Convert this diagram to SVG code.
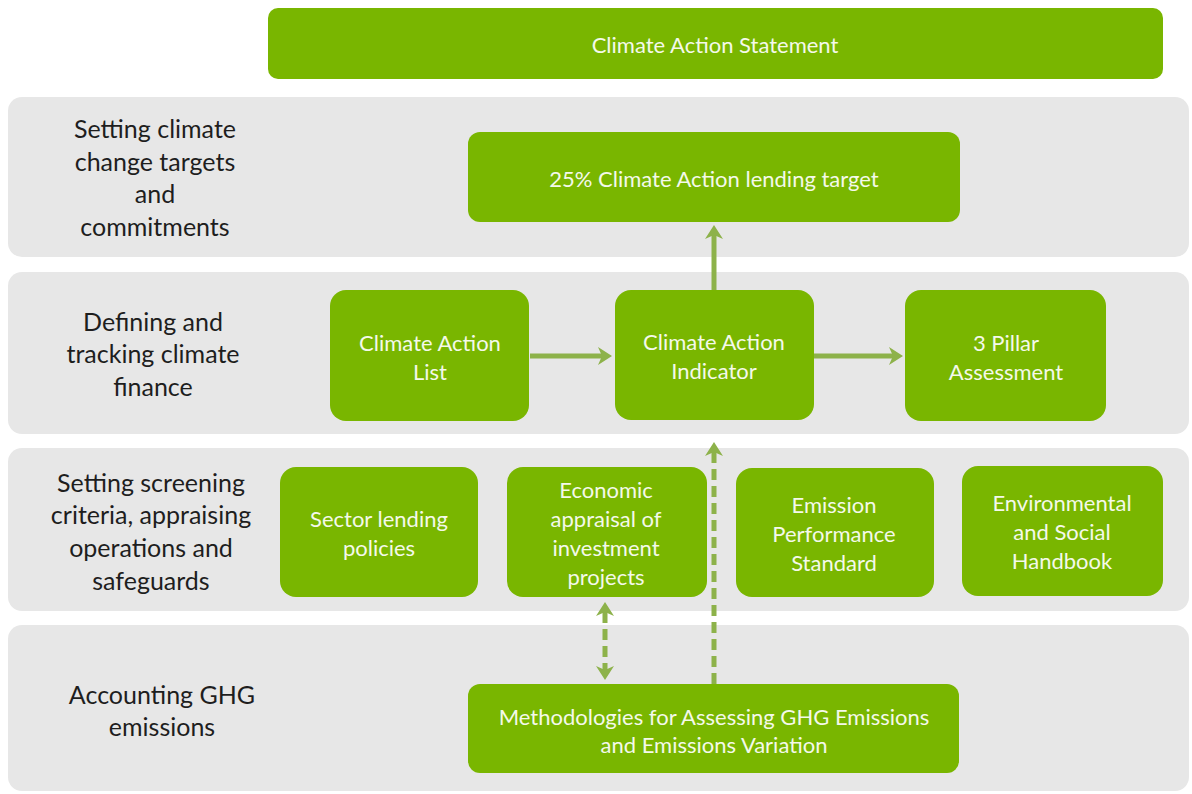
<svg xmlns="http://www.w3.org/2000/svg" width="1192" height="794" viewBox="0 0 1192 794">
<style>
.band{fill:#e7e7e7}
.node{fill:#79b600}
.lbl{font-family:Lato,"Liberation Sans",sans-serif;font-size:25px;fill:#1e1e1e;text-anchor:middle;dominant-baseline:central}
.nt{font-family:Lato,"Liberation Sans",sans-serif;font-size:22px;fill:#f4f9ea;text-anchor:middle;dominant-baseline:central}
.conn{stroke:#8db24a;stroke-width:5;fill:none}
.dash{stroke-dasharray:11 6}
</style>
<defs>
<marker id="ah" viewBox="0 0 14 18" refX="4" refY="9" markerWidth="14" markerHeight="18" markerUnits="userSpaceOnUse" orient="auto-start-reverse">
<path d="M0,0 L14,9 L0,18 L4,9 z" fill="#8db24a"/>
</marker>
</defs>
<rect width="1192" height="794" fill="#ffffff"/>
<g id="bands">
<rect class="band" x="8" y="97" width="1181" height="160" rx="14"/>
<rect class="band" x="8" y="272" width="1181" height="162" rx="14"/>
<rect class="band" x="8" y="448" width="1181" height="163" rx="14"/>
<rect class="band" x="8" y="625" width="1181" height="166" rx="14"/>
</g>
<g id="row-labels">
<text class="lbl"><tspan x="155" y="128">Setting climate</tspan><tspan x="155" y="161">change targets</tspan><tspan x="155" y="193">and</tspan><tspan x="155" y="226">commitments</tspan></text>
<text class="lbl"><tspan x="153" y="321">Defining and</tspan><tspan x="153" y="353">tracking climate</tspan><tspan x="153" y="386">finance</tspan></text>
<text class="lbl"><tspan x="151" y="482">Setting screening</tspan><tspan x="151" y="514">criteria, appraising</tspan><tspan x="151" y="547">operations and</tspan><tspan x="151" y="580">safeguards</tspan></text>
<text class="lbl"><tspan x="162" y="694">Accounting GHG</tspan><tspan x="162" y="726">emissions</tspan></text>
</g>
<g id="n-statement"><rect class="node" x="268" y="8" width="895" height="71" rx="10"/><text class="nt" x="715" y="44">Climate Action Statement</text></g>
<g id="n-target"><rect class="node" x="468" y="132" width="492" height="90" rx="12"/><text class="nt" x="714" y="178">25% Climate Action lending target</text></g>
<g id="n-list"><rect class="node" x="330" y="290" width="199" height="131" rx="16"/><text class="nt"><tspan x="430" y="342">Climate Action</tspan><tspan x="430" y="371">List</tspan></text></g>
<g id="n-indicator"><rect class="node" x="615" y="290" width="199" height="130" rx="16"/><text class="nt"><tspan x="714" y="341">Climate Action</tspan><tspan x="714" y="370">Indicator</tspan></text></g>
<g id="n-pillar"><rect class="node" x="905" y="290" width="201" height="131" rx="16"/><text class="nt"><tspan x="1006" y="342">3 Pillar</tspan><tspan x="1006" y="371">Assessment</tspan></text></g>
<g id="n-sector"><rect class="node" x="280" y="467" width="198" height="130" rx="16"/><text class="nt"><tspan x="379" y="518">Sector lending</tspan><tspan x="379" y="547">policies</tspan></text></g>
<g id="n-economic"><rect class="node" x="507" y="467" width="200" height="130" rx="16"/><text class="nt"><tspan x="606" y="489">Economic</tspan><tspan x="606" y="518">appraisal of</tspan><tspan x="606" y="547">investment</tspan><tspan x="606" y="576">projects</tspan></text></g>
<g id="n-eps"><rect class="node" x="736" y="468" width="198" height="129" rx="16"/><text class="nt"><tspan x="834" y="504">Emission</tspan><tspan x="834" y="533">Performance</tspan><tspan x="834" y="562">Standard</tspan></text></g>
<g id="n-esh"><rect class="node" x="962" y="466" width="201" height="130" rx="16"/><text class="nt"><tspan x="1062" y="502">Environmental</tspan><tspan x="1062" y="531">and Social</tspan><tspan x="1062" y="560">Handbook</tspan></text></g>
<g id="n-method"><rect class="node" x="468" y="684" width="491" height="89" rx="12"/><text class="nt"><tspan x="714" y="716">Methodologies for Assessing GHG Emissions</tspan><tspan x="714" y="744">and Emissions Variation</tspan></text></g>
<g id="connectors">
<line class="conn" x1="530" y1="356" x2="602" y2="356" marker-end="url(#ah)"/>
<line class="conn" x1="814" y1="356" x2="893" y2="356" marker-end="url(#ah)"/>
<line class="conn" x1="714" y1="290" x2="714" y2="235" marker-end="url(#ah)"/>
<line class="conn dash" x1="714" y1="684" x2="714" y2="452" marker-end="url(#ah)"/>
<line class="conn dash" x1="605" y1="612" x2="605" y2="670" marker-start="url(#ah)" marker-end="url(#ah)"/>
</g>
</svg>
